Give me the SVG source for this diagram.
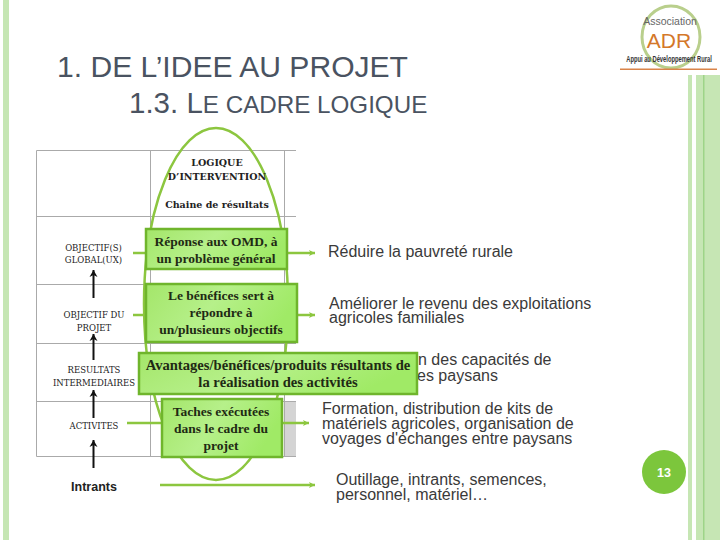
<svg xmlns="http://www.w3.org/2000/svg" width="720" height="540" viewBox="0 0 720 540">
<style>
.t{font-family:"Liberation Sans",Arial,sans-serif;fill:#4a5361}
.b{font-family:"Liberation Sans",Arial,sans-serif;fill:#3a3a3a;font-size:16px}
.s{font-family:"Liberation Serif","Times New Roman",serif;font-weight:bold;fill:#1f2a14;font-size:13.5px;text-anchor:middle}
.h{font-family:"DejaVu Serif",serif;font-weight:bold;fill:#222;font-size:9.500px;text-anchor:middle}
.l{font-family:"DejaVu Serif",serif;fill:#222;font-size:8.5px;text-anchor:middle}
.g{stroke:#8cc63f;stroke-width:2.5;fill:none}
.k{stroke:#111;stroke-width:2;fill:none}
.box{fill:url(#gr);stroke:#6fb52c;stroke-width:2.5}
.grid{stroke:#aaa;stroke-width:1;fill:none}
</style>
<defs>
<linearGradient id="gr" x1="0" y1="0" x2="1" y2="0.3"><stop offset="0" stop-color="#a4e66a"/><stop offset="0.5" stop-color="#b6f08a"/><stop offset="1" stop-color="#a0ea66"/></linearGradient>
<marker id="ag" markerUnits="userSpaceOnUse" markerWidth="7" markerHeight="8" refX="6" refY="4" orient="auto"><path d="M0 1L6 4L0 7L1.5 4Z" fill="#8cc63f"/></marker>
<marker id="ak" markerUnits="userSpaceOnUse" markerWidth="8" markerHeight="9" refX="7" refY="4.5" orient="auto"><path d="M0 0.5L7 4.5L0 8.5L2 4.5Z" fill="#111"/></marker>
</defs>
<rect width="720" height="540" fill="#fff"/>
<g id="decor">
<rect x="3" y="0" width="6" height="540" fill="#c6e6b4"/>
<rect x="688" y="75" width="4" height="465" fill="#c6e6b4"/>
<rect x="696" y="75" width="24" height="465" fill="#c6e6b4"/>
<rect x="703" y="75" width="1.5" height="465" fill="#9ed488"/>
</g>
<g id="title">
<text class="t" x="57" y="77" font-size="29.5" textLength="351" lengthAdjust="spacingAndGlyphs">1. DE L’IDEE AU PROJET</text>
<text class="t" x="129" y="113" font-size="29.5">1.3. L<tspan font-size="24.2">E CADRE LOGIQUE</tspan></text>
</g>
<g id="logo">
<ellipse cx="671" cy="37" rx="29" ry="31" fill="#fff" stroke="#b9cf8c" stroke-width="3"/>
<text x="670" y="25" font-family="Liberation Sans,sans-serif" font-size="10.5" fill="#666" text-anchor="middle">Association</text>
<text x="669" y="48" font-family="Liberation Sans,sans-serif" font-size="21" fill="#d4782a" text-anchor="middle">ADR</text>
<text transform="translate(669 62) scale(.68 1)" font-family="Liberation Sans,sans-serif" font-size="8.5" font-weight="bold" fill="#333" text-anchor="middle">Appui au Développement Rural</text>
<rect x="620" y="68.500" width="97" height="1.5" fill="#d9844a"/>
</g>
<g id="table">
<rect x="284.500" y="401.500" width="11.500" height="55" fill="#d4d4d4"/>
<path class="grid" d="M36.500 150.500H296M36.500 216.500H296M36.500 284.500H296M36.500 343.500H296M36.500 401.500H296M36.500 456.500H296M36.500 150.500V456.500M150.500 150.500V456.500M284.500 150.500V456.500"/>
</g>
<g id="ellipse"><ellipse class="g" cx="216" cy="304" rx="72" ry="176" stroke-width="3"/></g>
<g id="connectors">
<path class="g" d="M133 253H146"/>
<path class="g" d="M287 253H315" marker-end="url(#ag)"/>
<path class="g" d="M133 315H146"/>
<path class="g" d="M298 315H315" marker-end="url(#ag)"/>
<path class="g" d="M127 423H163"/>
<path class="g" d="M282 423H309" marker-end="url(#ag)"/>
<path class="g" d="M160 485H315" marker-end="url(#ag)"/>
<path class="k" d="M93.500 298V270" marker-end="url(#ak)"/>
<path class="k" d="M93.500 360V334" marker-end="url(#ak)"/>
<path class="k" d="M93.500 418V390" marker-end="url(#ak)"/>
<path class="k" d="M93.500 468V440" marker-end="url(#ak)"/>
</g>
<g id="header-cell">
<text class="h" x="217" y="166">LOGIQUE</text>
<text class="h" x="217" y="180">D’INTERVENTION</text>
<text class="h" x="217" y="208">Chaine de résultats</text>
</g>
<g id="labels-left">
<text class="l" x="93.500" y="251">OBJECTIF(S)</text>
<text class="l" x="93.500" y="263">GLOBAL(UX)</text>
<text class="l" x="94" y="318">OBJECTIF DU</text>
<text class="l" x="94" y="331">PROJET</text>
<text class="l" x="94" y="373">RESULTATS</text>
<text class="l" x="94" y="386">INTERMEDIAIRES</text>
<text class="l" x="94" y="429">ACTIVITES</text>
<text x="94" y="491" font-family="Liberation Sans,sans-serif" font-weight="bold" font-size="12.500" fill="#222" text-anchor="middle">Intrants</text>
</g>
<g id="texts-right">
<text class="b" x="328" y="257">Réduire la pauvreté rurale</text>
<text class="b" x="329" y="309">Améliorer le revenu des exploitations</text>
<text class="b" x="329" y="323">agricoles familiales</text>
<text class="b" x="418" y="365">n des capacités de</text>
<text class="b" x="417" y="381">es paysans</text>
<text class="b" x="322" y="414">Formation, distribution de kits de</text>
<text class="b" x="322" y="429">matériels agricoles, organisation de</text>
<text class="b" x="322" y="444">voyages d'échanges entre paysans</text>
<text class="b" x="336" y="485">Outillage, intrants, semences,</text>
<text class="b" x="336" y="500">personnel, matériel…</text>
</g>
<g id="n1"><rect class="box" x="146" y="229" width="141" height="40"/>
<text class="s" x="216" y="246">Réponse aux OMD, à</text><text class="s" x="216" y="263">un problème général</text></g>
<g id="n2"><rect class="box" x="146" y="284" width="151" height="58"/>
<text class="s" x="221" y="300">Le bénéfices sert à</text><text class="s" x="221" y="317">répondre à</text><text class="s" x="221" y="334">un/plusieurs objectifs</text></g>
<g id="n3"><rect class="box" x="139" y="353" width="278" height="41"/>
<text class="s" x="278" y="370" style="font-size:14.6px">Avantages/bénéfices/produits résultants de</text><text class="s" x="278" y="387" style="font-size:14.6px">la réalisation des activités</text></g>
<g id="n4"><rect class="box" x="162" y="399" width="120" height="58"/>
<text class="s" x="221" y="416">Taches exécutées</text><text class="s" x="221" y="433">dans le cadre du</text><text class="s" x="221" y="450">projet</text></g>
<g id="page"><circle cx="664" cy="472" r="22" fill="#7cc63c"/>
<text x="664" y="477" font-family="Liberation Sans,sans-serif" font-weight="bold" font-size="12.500" fill="#fff" text-anchor="middle">13</text></g>
</svg>
